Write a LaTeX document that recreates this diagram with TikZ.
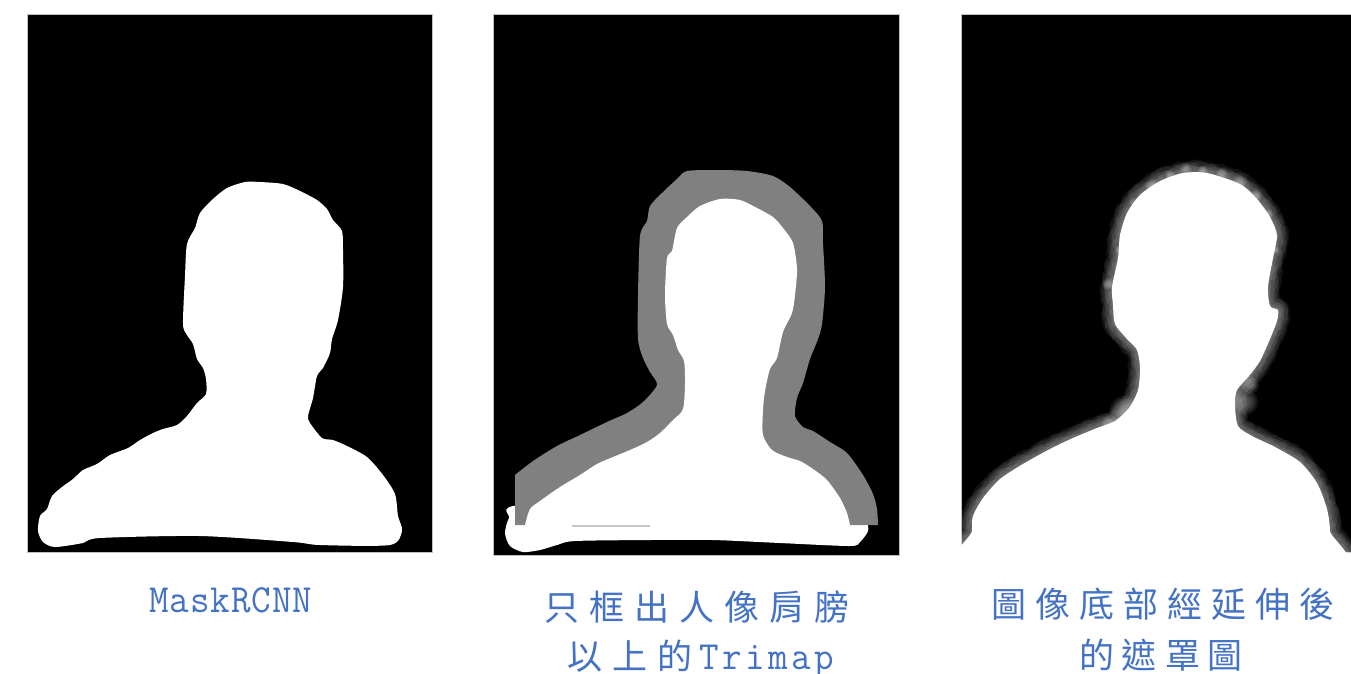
\documentclass[tikz,border=0pt]{standalone}
\usepackage{fontspec}
\newfontfamily\cjk{Noto Sans CJK TC}
\usetikzlibrary{decorations.pathmorphing}
\definecolor{capblue}{RGB}{68,114,196}
\definecolor{trimapgray}{RGB}{128,128,128}
\makeatletter
% fixed-pitch caption lettering: full-width cells for CJK, half-width for Latin
\newcommand\cjkgrid[2][44pt]{{\cjk\fontsize{35pt}{40pt}\selectfont\@tfor\gch:=#2\do{\makebox[#1]{\gch}}}}
\newcommand\latgrid[2][20.5pt]{{\ttfamily\fontsize{40pt}{44pt}\selectfont\@tfor\gch:=#2\do{\makebox[#1]{\scalebox{0.95}[1]{\gch}}}}}
\makeatother
% outline of the soft matte in the third panel
\newcommand\matteoutline{plot[smooth cycle, tension=0.45] coordinates {
  (1183,173) (1160,181) (1140,195) (1127,213) (1120,235) (1118,258) (1112,287)
  (1113,305) (1115,324) (1127,339) (1137,350) (1140,368) (1138,390) (1129,408)
  (1115,421) (1097,428) (1073,438) (1050,449) (1023,464) (1000,479) (983,498)
  (973,516) (972,531) (972,575) (1330,575) (1330,531) (1327,509) (1317,483)
  (1300,462) (1275,447) (1252,436) (1238,426) (1235,405) (1237,390) (1249,376)
  (1260,361) (1270,339) (1277,321) (1278,310) (1270,306) (1268,287) (1273,258)
  (1277,235) (1270,217) (1257,199) (1240,184) (1207,173)}}
\tikzset{
  panel/.style={fill=black, draw=black!25, line width=0.6pt},
  caption/.style={text=capblue, inner sep=0pt, anchor=base},
  fuzz/.style={white, opacity=0.075, line join=round,
    decorate, decoration={random steps, segment length=2.5pt, amplitude=1.8pt}},
}
\begin{document}
\begin{tikzpicture}[x=1pt, y=-1pt]
\fill[white] (0,0) rectangle (1351,673);
\useasboundingbox (0,0) rectangle (1351,673);
\clip (0,0) rectangle (1351,673);

% ---------- panel 1: MaskRCNN mask ----------
\path[panel] (27,14) rectangle (432,552);
\fill[white] plot[smooth cycle, tension=0.45] coordinates {
  (245,182) (227,188) (213,199) (200,213) (195,228) (187,244) (185,276) (183,324)
  (187,335) (193,344) (197,359) (203,368) (206,379) (206,394) (197,403) (187,416)
  (177,425) (163,429) (153,433) (140,440) (128,448) (110,455) (97,464) (83,470)
  (73,479) (62,487) (52,496) (47,509) (40,516) (38,531) (43,542) (55,547)
  (83,543) (100,538) (200,536) (293,542) (320,545) (390,545) (402,531) (398,516)
  (395,494) (383,475) (367,457) (347,446) (333,440) (322,438) (310,423) (308,416)
  (313,398) (317,376) (323,368) (330,353) (332,339) (338,320) (343,287) (343,250)
  (342,231) (333,220) (327,209) (317,200) (300,191) (283,184) (260,182)};

% ---------- panel 2: trimap ----------
\path[panel] (493,14) rectangle (899,555);
% white base of the shoulders
\fill[white] plot[smooth cycle, tension=0.45] coordinates {
  (520,505) (509,518) (505,533) (510,546) (523,552) (540,550) (557,545) (575,541)
  (650,540) (713,540) (780,543) (850,546) (860,542) (868,531) (866,522) (850,515)
  (700,500)};
% unknown band
\fill[trimapgray] (515,525) -- plot[smooth, tension=0.45] coordinates {
  (515,475) (533,461) (557,446) (580,435) (607,422) (627,413) (643,402) (657,385)
  (650,372) (643,358) (638,339) (638,295) (640,236) (647,221) (650,206) (663,192)
  (677,179) (687,171) (717,170) (747,171) (773,176) (790,187) (810,206) (822,221)
  (823,243) (825,287) (822,324) (818,339) (810,359) (803,383) (797,398) (795,416)
  (803,427) (813,431) (830,442) (847,453) (863,475) (873,494) (877,509) (878,525)}
  -- cycle;
% known foreground
\fill[white] (525,527) -- plot[smooth, tension=0.45] coordinates {
  (525,525) (530,509) (540,501) (560,487) (580,475) (597,464) (613,457) (630,450)
  (647,442) (660,433) (673,420) (683,409) (685,383) (684,361) (678,350) (673,335)
  (667,324) (665,295) (667,258) (672,251) (677,228) (687,217) (700,206) (720,199)
  (740,200) (757,208) (773,217) (783,228) (793,243) (797,269) (795,295) (792,313)
  (783,332) (777,358) (770,369) (765,391) (763,410) (763,435) (772,450) (787,457)
  (800,461) (813,469) (827,480) (840,498) (847,513) (850,525)}
  -- (850,527) -- cycle;
\draw[black!22, line width=1.2pt] (572,526) -- (650,526);

% ---------- panel 3: extended matte with soft edges ----------
\path[panel] (961,14) rectangle (1351,552);
\begin{scope}
  \clip (961,14) rectangle (1351,552);
  \foreach \w in {22,19,16,13,10,7,4}
    \draw[fuzz, line width=\w pt] \matteoutline;
  % wispy hair tufts on the crown and semi-transparent hair beside the neck
  \foreach \hx/\hy/\hr in {1136/204/6, 1152/186/7, 1170/175/5, 1186/169/6,
                           1203/171/5, 1222/174/6, 1240/182/7, 1256/196/6,
                           1268/214/5, 1120/250/5, 1108/284/6, 1275/250/4,
                           1124/410/14, 1110/424/9, 1245/402/13, 1250/385/9}
    \foreach \k in {1.0,0.85,0.7,0.55,0.4}
      \fill[white, opacity=0.07] (\hx,\hy) circle [radius=\k*\hr pt];
  \fill[white] \matteoutline;
\end{scope}

% ---------- captions ----------
\node[caption] (capA) at (231,612) {\latgrid{MaskRCNN}};
\node[caption] (capB1) at (697,620) {\cjkgrid[45pt]{只框出人像肩膀}};
\node[caption] (capB2) at (699,669) {\cjkgrid[45pt]{以上的}\latgrid[23pt]{Trimap}};
\node[caption] (capC1) at (1163,617) {\cjkgrid{圖像底部經延伸後}};
\node[caption] (capC2) at (1161,668) {\cjkgrid[43pt]{的遮罩圖}};
\end{tikzpicture}
\end{document}
